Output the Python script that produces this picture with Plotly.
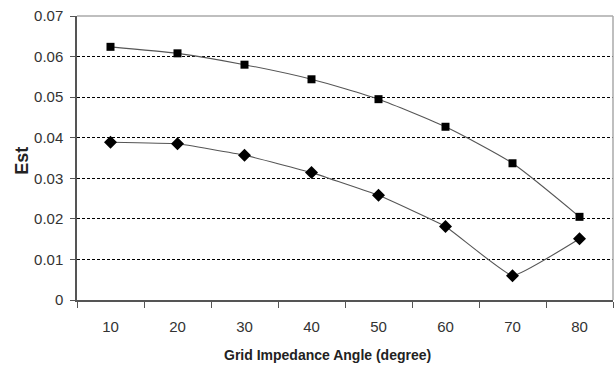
import plotly.graph_objects as go

angles = [10, 20, 30, 40, 50, 60, 70, 80]
est_square = [0.0624, 0.0608, 0.0580, 0.0544, 0.0495, 0.0427, 0.0337, 0.0205]
est_diamond = [0.0389, 0.0385, 0.0357, 0.0314, 0.0258, 0.0181, 0.0060, 0.0151]
y_ticks = [0, 0.01, 0.02, 0.03, 0.04, 0.05, 0.06, 0.07]
y_labels = ["0", "0.01", "0.02", "0.03", "0.04", "0.05", "0.06", "0.07"]

fig = go.Figure()
fig.add_trace(go.Scatter(
    x=angles, y=est_square, mode="lines+markers",
    line=dict(color="#555555", width=1.1, shape="spline", smoothing=0.6),
    marker=dict(symbol="square", size=8, color="black"),
    showlegend=False))
fig.add_trace(go.Scatter(
    x=angles, y=est_diamond, mode="lines+markers",
    line=dict(color="#555555", width=1.1, shape="spline", smoothing=0.3),
    marker=dict(symbol="diamond", size=10, color="black"),
    showlegend=False))

fig.update_layout(
    width=614, height=366,
    margin=dict(l=77, r=1, t=16, b=66),
    plot_bgcolor="white", paper_bgcolor="white",
    font=dict(family="Liberation Sans, Arial", color="#333333"),
    xaxis=dict(
        range=[5, 85], tickvals=angles, ticktext=[str(a) for a in angles],
        ticks="", showgrid=False, zeroline=False, ticklabelstandoff=12,
        showline=True, linecolor="#555555", linewidth=1.5, mirror=False,
        tickfont=dict(size=15, color="#333333"),
        minor=dict(ticks="outside", tick0=5, dtick=10, ticklen=6, tickcolor="#555555", showgrid=False),
    ),
    yaxis=dict(
        range=[0, 0.07], tickvals=y_ticks, ticktext=y_labels,
        ticks="outside", ticklen=5, tickcolor="#555555", ticklabelstandoff=4,
        showgrid=True, gridcolor="black", gridwidth=1, griddash="3px,2px",
        zeroline=False, showline=True, linecolor="#555555", linewidth=1.5,
        tickfont=dict(size=15, color="#333333"),
    ),
    annotations=[
        dict(text="<b>Grid Impedance Angle (degree)</b>", xref="paper", yref="paper",
             x=0.468, y=-0.194, xanchor="center", yanchor="middle", showarrow=False,
             font=dict(size=14, color="#222222")),
        dict(text="<b>Est</b>", xref="paper", yref="paper", textangle=-90,
             x=-0.1026, y=0.49, xanchor="center", yanchor="middle", showarrow=False,
             font=dict(size=18, color="#222222")),
    ],
)
# top and right border of plot area
fig.add_shape(type="line", xref="paper", yref="paper", x0=0, x1=1, y0=1, y1=1,
              line=dict(color="#aaaaaa", width=1.5))
fig.add_shape(type="line", xref="paper", yref="paper", x0=1, x1=1, y0=0, y1=1,
              line=dict(color="#aaaaaa", width=1.5))

fig.write_html("out.html")
